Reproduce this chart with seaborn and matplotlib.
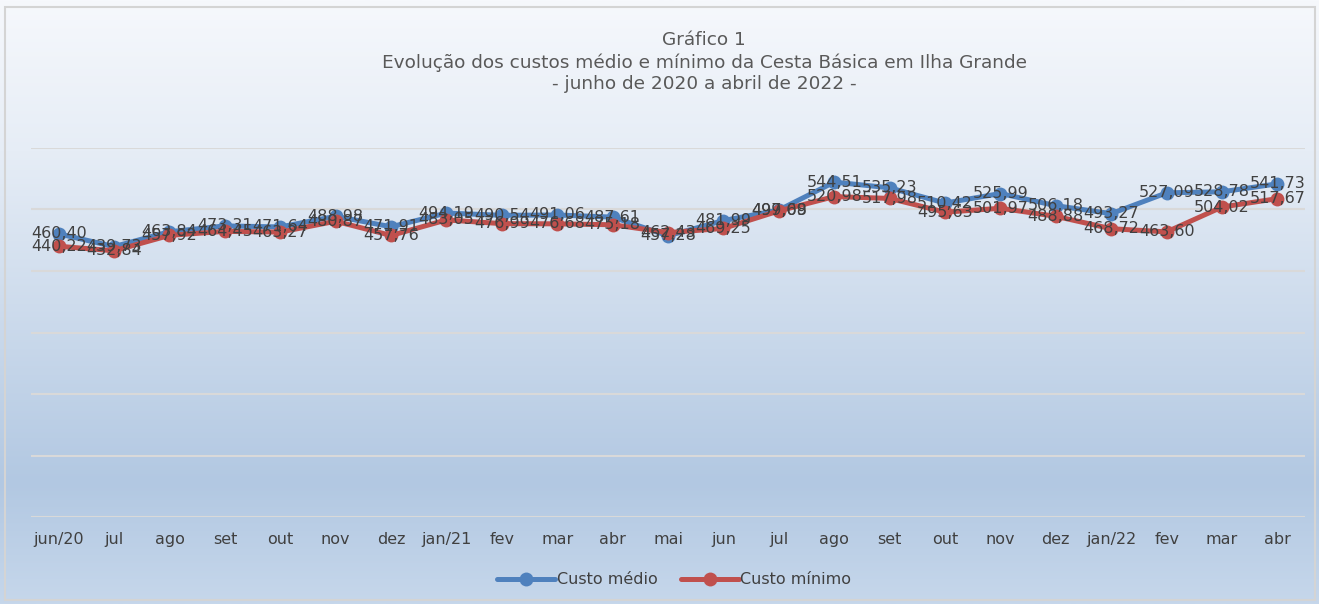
"""
Evolução dos custos médio e mínimo da Cesta Básica em Ilha Grande
jun/2020 a abr/2022
"""
import matplotlib.pyplot as plt
import numpy as np
import pandas as pd
import seaborn as sns
from matplotlib.colors import LinearSegmentedColormap
from matplotlib.patches import Rectangle

FIG_SIZE = (13.19, 6.04)
BLUE = "#4F81BD"
RED = "#C0504D"
TEXT = "#404040"

meses = ["jun/20", "jul", "ago", "set", "out", "nov", "dez", "jan/21", "fev", "mar",
         "abr", "mai", "jun", "jul", "ago", "set", "out", "nov", "dez", "jan/22",
         "fev", "mar", "abr"]
custo_medio = [460.40, 439.73, 463.84, 473.31, 471.64, 488.98, 471.91, 494.19, 490.54,
               491.06, 487.61, 457.28, 481.99, 499.09, 544.51, 535.23, 510.42, 525.99,
               506.18, 493.27, 527.09, 528.78, 541.73]
custo_minimo = [440.22, 432.84, 457.92, 464.45, 463.27, 480.87, 457.76, 483.05, 476.99,
                476.68, 475.18, 462.43, 469.25, 497.68, 520.98, 517.98, 495.63, 501.97,
                488.88, 468.72, 463.60, 504.02, 517.67]

df = pd.DataFrame({"pos": np.arange(len(meses)), "mes": meses,
                   "Custo médio": custo_medio, "Custo mínimo": custo_minimo})

sns.set_theme(style="white")
plt.rcParams["font.family"] = ["DejaVu Sans"]

fig = plt.figure(figsize=FIG_SIZE, dpi=100)

# background gradient
bg = fig.add_axes([0, 0, 1, 1], zorder=0)
cmap = LinearSegmentedColormap.from_list(
    "bg", [(0.0, "#f6f8fc"), (0.25, "#e6edf6"), (0.8, "#b2c8e2"), (1.0, "#c6d7eb")])
bg.imshow(np.linspace(0, 1, 256).reshape(-1, 1), aspect="auto", cmap=cmap,
          extent=[0, 1, 0, 1], origin="upper")
bg.set_axis_off()
fig.patches.append(Rectangle((0.004, 0.006), 0.993, 0.982, transform=fig.transFigure,
                             fill=False, edgecolor="#d4d4d4", linewidth=1.5, zorder=5))

ax = fig.add_axes([0.0235, 0.144, 0.966, 0.611], zorder=1)
ax.set_facecolor("none")

for col, color in [("Custo médio", BLUE), ("Custo mínimo", RED)]:
    sns.lineplot(data=df, x="pos", y=col, ax=ax, color=color, linewidth=3.6,
                 marker="o", markersize=10, markeredgewidth=0, label=col, zorder=3)
    for x, v in zip(df["pos"], df[col]):
        ax.text(x, v, f"{v:.2f}".replace(".", ","), ha="center", va="center",
                fontsize=11.5, color=TEXT, zorder=4)

ax.set_xlim(-0.5, len(meses) - 0.5)
ax.set_ylim(0, 600)
ax.set_yticks(range(0, 601, 100))
ax.set_yticklabels([])
ax.yaxis.grid(True, color="#d9d9d9", linewidth=1.5)
ax.set_axisbelow(True)
ax.set_xticks(df["pos"])
ax.set_xticklabels(meses, fontsize=11.5, color=TEXT)
ax.tick_params(axis="x", length=0, pad=11)
ax.tick_params(axis="y", length=0)
ax.set_xlabel("")
ax.set_ylabel("")
for s in ax.spines.values():
    s.set_visible(False)

ax.legend(loc="center", bbox_to_anchor=(0.505, -0.17), ncol=2, frameon=False,
          fontsize=11.5, handlelength=3.6, columnspacing=1.5, handletextpad=0.1,
          labelcolor=TEXT)

fig.text(0.534, 0.948, "Gráfico 1\nEvolução dos custos médio e mínimo da Cesta Básica em Ilha Grande\n- junho de 2020 a abril de 2022 -",
         ha="center", va="top", fontsize=13.3, color="#595959", linespacing=1.26)

plt.savefig("out.png", dpi=100)
plt.close()
